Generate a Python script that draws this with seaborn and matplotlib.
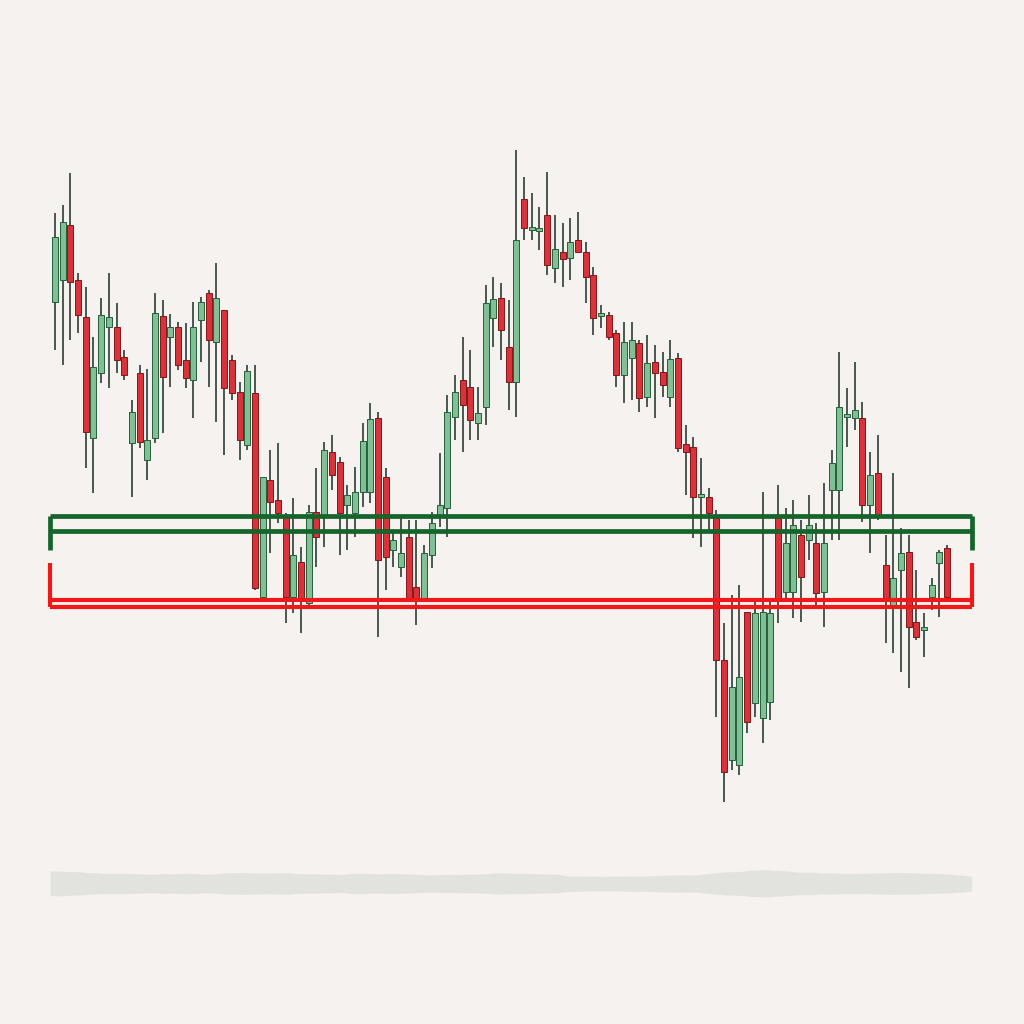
import numpy as np
import pandas as pd
import matplotlib
matplotlib.use("Agg")
import matplotlib.pyplot as plt
import seaborn as sns

# OHLC (price units, one candle per session)
opens = [69.8, 72.0, 77.5, 72.0, 68.3, 56.2, 62.7, 67.3, 67.3, 64.3,
         55.7, 62.7, 54.0, 56.2, 68.4, 66.3, 67.3, 64.0, 62.0, 68.0,
         70.7, 65.8, 69.0, 64.0, 60.8, 55.5, 60.7, 40.3, 52.0, 50.0,
         48.3, 40.3, 43.8, 39.7, 48.8, 48.3, 54.8, 53.8, 49.5, 48.7,
         50.8, 50.8, 58.2, 52.3, 45.0, 43.3, 46.3, 41.3, 40.2, 44.5,
         48.3, 49.2, 58.3, 62.0, 61.3, 57.7, 59.3, 68.2, 70.2, 65.3,
         61.8, 80.1, 77.0, 76.9, 78.5, 73.2, 74.8, 74.2, 76.0, 74.8,
         72.5, 68.4, 68.5, 66.7, 62.5, 64.2, 65.7, 60.3, 63.8, 62.8,
         60.3, 64.2, 55.6, 55.3, 50.3, 50.3, 48.2, 34.0, 24.0, 23.5,
         38.8, 29.7, 28.2, 29.8, 48.2, 40.8, 40.8, 46.5, 46.0, 45.7,
         40.8, 51.0, 51.0, 58.3, 58.2, 58.2, 49.5, 52.7, 43.5, 39.3,
         43.0, 44.8, 37.8, 37.0, 40.3, 43.7, 45.2]
highs = [78.7, 79.5, 82.7, 72.7, 71.3, 66.3, 70.2, 72.7, 69.7, 65.0,
         60.0, 63.5, 63.1, 70.7, 70.0, 68.6, 67.8, 67.7, 69.8, 70.3,
         71.0, 73.7, 69.0, 64.5, 61.8, 63.5, 63.5, 50.0, 55.0, 55.7,
         48.7, 50.2, 45.3, 49.5, 53.2, 55.8, 56.5, 54.3, 51.5, 53.3,
         57.7, 59.7, 58.8, 53.2, 47.0, 48.2, 48.0, 48.0, 45.5, 48.8,
         54.7, 60.5, 62.5, 66.3, 65.0, 61.3, 71.5, 72.3, 71.7, 70.0,
         85.0, 82.3, 80.7, 79.3, 82.8, 78.5, 77.7, 78.2, 78.8, 75.8,
         73.3, 69.5, 68.8, 67.0, 67.8, 67.8, 66.0, 66.5, 65.5, 64.8,
         66.0, 64.7, 57.5, 56.3, 54.2, 51.2, 49.0, 37.7, 40.5, 41.5,
         38.8, 40.0, 50.8, 40.0, 51.5, 49.2, 50.0, 48.0, 50.5, 47.7,
         51.7, 55.0, 64.8, 61.2, 63.8, 59.8, 54.8, 56.5, 46.5, 52.7,
         47.2, 46.5, 43.0, 38.7, 42.2, 45.0, 45.5]
lows = [65.0, 63.5, 66.0, 66.7, 53.2, 50.7, 61.7, 61.2, 62.7, 62.0,
        50.3, 55.2, 52.0, 55.7, 56.7, 61.3, 63.0, 61.2, 58.2, 63.8,
        61.3, 57.8, 54.5, 60.0, 54.0, 55.0, 41.0, 40.3, 44.7, 47.7,
        37.7, 38.7, 36.7, 39.5, 43.3, 45.3, 51.0, 44.5, 45.0, 46.3,
        49.3, 49.7, 36.3, 41.0, 43.3, 42.3, 40.2, 37.5, 40.2, 43.2,
        47.3, 46.3, 56.0, 54.8, 56.0, 56.0, 57.5, 65.3, 64.0, 59.0,
        58.3, 76.0, 76.0, 75.0, 72.5, 71.7, 71.3, 72.0, 74.7, 69.7,
        66.5, 67.2, 66.0, 61.3, 59.7, 60.0, 58.8, 59.3, 58.2, 60.3,
        59.3, 54.8, 50.5, 46.2, 45.3, 47.0, 28.3, 19.8, 23.0, 22.5,
        26.7, 28.3, 25.7, 28.0, 37.7, 40.0, 38.2, 37.8, 44.0, 39.3,
        37.3, 46.0, 46.0, 55.3, 57.0, 47.8, 44.7, 48.0, 35.7, 34.7,
        32.8, 31.2, 36.0, 34.3, 39.0, 38.3, 40.0]
closes = [76.3, 77.8, 71.8, 68.5, 56.8, 63.3, 68.5, 68.3, 64.0, 62.5,
          58.8, 55.8, 56.0, 68.7, 62.3, 67.3, 63.5, 62.2, 67.3, 69.8,
          66.0, 70.2, 61.2, 60.7, 56.0, 62.9, 41.2, 52.3, 49.8, 48.7,
          40.3, 44.5, 40.0, 48.8, 46.3, 55.0, 52.5, 48.7, 50.5, 50.8,
          55.9, 58.1, 44.0, 44.3, 46.0, 44.7, 40.2, 40.2, 44.7, 47.7,
          49.5, 58.8, 60.8, 59.5, 58.0, 58.7, 69.7, 70.1, 67.0, 61.8,
          76.0, 77.2, 77.3, 77.1, 73.5, 75.1, 74.1, 75.8, 74.8, 72.3,
          68.2, 68.4, 66.3, 62.5, 65.8, 66.0, 60.2, 63.7, 62.7, 61.5,
          64.1, 55.2, 54.8, 50.3, 50.5, 48.7, 34.0, 22.8, 31.3, 32.3,
          27.8, 38.7, 38.8, 38.7, 40.2, 45.7, 47.5, 42.3, 47.5, 40.7,
          45.7, 53.7, 59.3, 58.3, 59.0, 49.5, 52.5, 48.5, 40.0, 42.2,
          44.7, 37.3, 36.3, 37.0, 41.5, 44.8, 40.3]

resistance_levels = [48.4, 46.9]   # double green line
support_levels = [40.0, 39.3]      # double red line

df = pd.DataFrame({"open": opens, "high": highs, "low": lows, "close": closes})
df["i"] = np.arange(len(df))
df["up"] = df["close"] >= df["open"]

sns.set_theme(style="white", rc={"axes.facecolor": "#f6f2f0",
                                 "figure.facecolor": "#f6f2f0"})

fig = plt.figure(figsize=(10.24, 10.24), dpi=100)
ax = fig.add_axes([0, 0, 1, 1])

green_fill = "#82bf94"
green_edge = "#23603a"
red_fill = "#d8323a"
red_edge = "#821619"

x0, x1 = -0.65, 119.2

# soft shadow under the chart, stretched across the bracket width
span = (df["high"] - df["low"]).rolling(9, center=True, min_periods=1).mean()
band = 0.45 + 0.06 * span
sx = x0 + df["i"] * (x1 - x0) / df["i"].max()
ax.fill_between(sx, 11.6 + band, 11.6 - band * 0.9,
                color="#e1e2df", alpha=0.95, lw=0)

# wicks
ax.vlines(df["i"], df["low"], df["high"], color="#1c2e22", lw=1.1, zorder=2)

# bodies
for up, fc, ec in [(True, green_fill, green_edge), (False, red_fill, red_edge)]:
    sub = df[df["up"] == up]
    bottom = sub[["open", "close"]].min(axis=1)
    height = (sub["close"] - sub["open"]).abs().clip(lower=0.3)
    ax.bar(sub["i"], height, bottom=bottom, width=0.78,
           color=fc, edgecolor=ec, linewidth=0.7, zorder=3)

# zone brackets
for lvl in resistance_levels:
    ax.hlines(lvl, x0, x1, color="#15642c", lw=3.4, zorder=4)
ax.vlines([x0, x1], resistance_levels[0] - 3.4, resistance_levels[0],
          color="#15642c", lw=3.4, zorder=4)
for lvl in support_levels:
    ax.hlines(lvl, x0, x1, color="#f01818", lw=3.0, zorder=4)
ax.vlines([x0, x1], support_levels[1], support_levels[1] + 4.4,
          color="#f01818", lw=3.0, zorder=4)

ax.set_xlim(-7.15, 126.0)
ax.set_ylim(-2.4, 100)
ax.axis("off")

fig.savefig("out.png", dpi=100, facecolor=fig.get_facecolor())
